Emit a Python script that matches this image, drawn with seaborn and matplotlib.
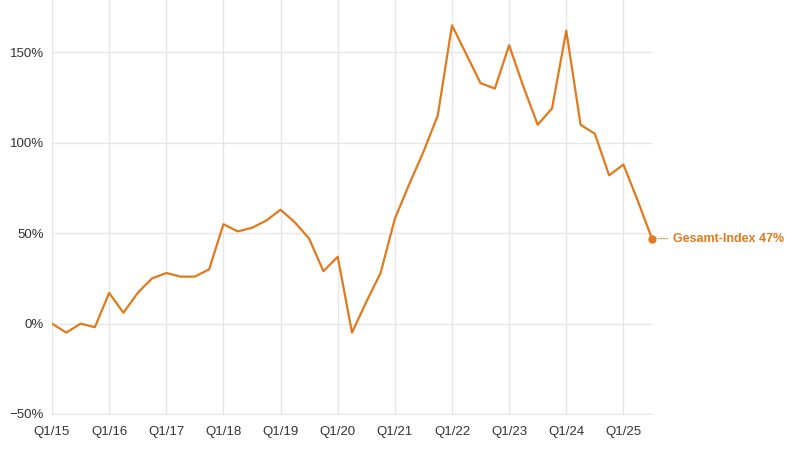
#! /usr/bin/env python3

import pandas as pd
import matplotlib
matplotlib.use('Agg')
import matplotlib.pyplot as plt
import seaborn as sns

# quartalswerte Q1/15 .. Q3/25, veraenderung in prozent
QUARTALE = [f'Q{q}/{j:02d}' for j in range(15, 26) for q in range(1, 5)][:43]
WERTE = [
    0, -5, 0, -2,
    17, 6, 17, 25,
    28, 26, 26, 30,
    55, 51, 53, 57,
    63, 56, 47, 29,
    37, -5, 12, 28,
    58, 77, 95, 115,
    165, 149, 133, 130,
    154, 131, 110, 119,
    162, 110, 105, 82,
    88, 68, 47,
]
Y_TICKS = [-50, 0, 50, 100, 150]
Y_LABELS = ['\u221250%', '0%', '50%', '100%', '150%']
LABEL = 'Gesamt-Index'

ORANGE = '#e07a1c'
GRID = '#e6e6e6'


def main() -> None:
    sns.set_style('white')
    plt.rcParams['font.family'] = ['Liberation Sans', 'DejaVu Sans']

    data = pd.DataFrame({'quartal': QUARTALE, 'wert': WERTE})
    data['pos'] = range(len(data))

    fig = plt.figure(figsize=(8, 4.5), dpi=100)
    ax = fig.add_axes([0.065, 0.08, 0.75, 0.92])

    sns.lineplot(x='pos', y='wert', data=data, color=ORANGE, lw=1.6, ax=ax)

    last = data.iloc[-1]
    ax.plot(last.pos, last.wert, 'o', color=ORANGE, ms=5, clip_on=False, zorder=5)
    ax.annotate('', xy=(last.pos + 0.25, last.wert), xytext=(last.pos + 1.3, last.wert),
                arrowprops=dict(arrowstyle='-', ls=(0, (1.5, 1.5)), color=ORANGE, lw=0.7),
                annotation_clip=False)
    ax.text(last.pos + 1.45, last.wert, f'{LABEL} {int(last.wert)}%', color=ORANGE,
            fontsize=9, fontweight='bold', va='center', ha='left')

    ax.set_xlim(0, len(data) - 1)
    ax.set_ylim(-50, 179)
    xt = list(range(0, len(data), 4))
    ax.set_xticks(xt)
    ax.set_xticklabels([QUARTALE[i] for i in xt])
    ax.set_yticks(Y_TICKS)
    ax.set_yticklabels(Y_LABELS)
    ax.grid(True, color=GRID, lw=1)
    ax.set_axisbelow(True)
    ax.tick_params(axis='x', length=6, color=GRID, labelsize=9.5, labelcolor='#333333', pad=3)
    ax.tick_params(axis='y', length=0, labelsize=9.5, labelcolor='#333333', pad=6)
    for side in ['left', 'right', 'top']:
        ax.spines[side].set_visible(False)
    ax.spines['bottom'].set_color(GRID)
    ax.set_xlabel('')
    ax.set_ylabel('')

    fig.savefig('out.png', dpi=100)


if __name__ == '__main__':
    main()
